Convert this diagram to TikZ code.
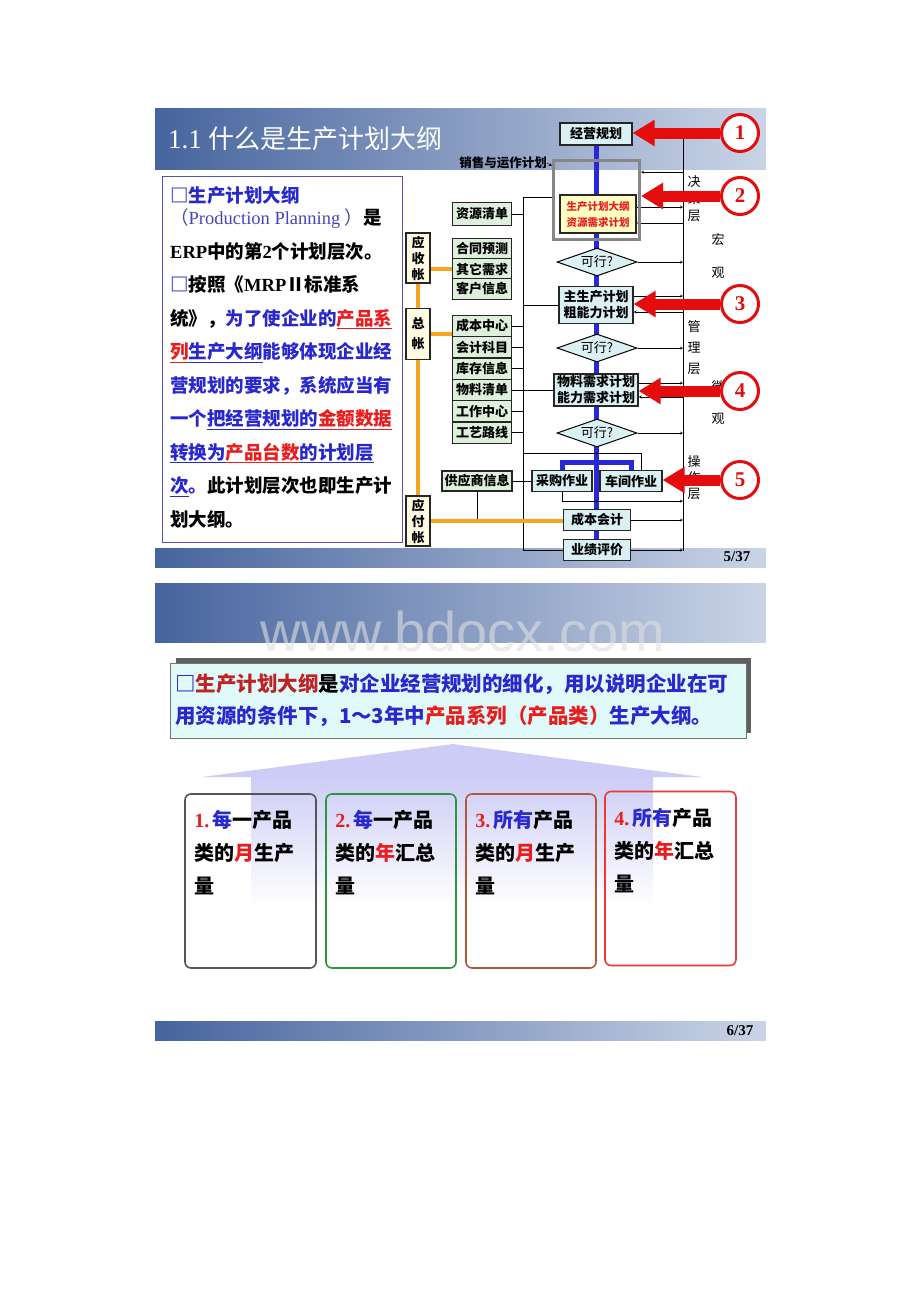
\documentclass[tikz,border=0pt]{standalone}
\usepackage{fontspec}
\setmainfont{Liberation Serif}
\newfontfamily\cjk{Noto Sans CJK SC}
\newfontfamily\wmfont{Liberation Sans}
\usetikzlibrary{shapes.geometric, arrows, arrows.meta, positioning}
\definecolor{barL}{RGB}{70,100,158}
\definecolor{barR}{RGB}{202,212,230}
\definecolor{flowfill}{RGB}{218,240,242}
\definecolor{srcfill}{RGB}{222,240,220}
\definecolor{ledgerfill}{RGB}{255,250,226}
\definecolor{planfill}{RGB}{255,255,196}
\definecolor{pblue}{RGB}{40,40,205}
\definecolor{ppblue}{RGB}{70,70,185}
\definecolor{pred}{RGB}{232,30,30}
\definecolor{notered}{RGB}{190,35,35}
\definecolor{spineblue}{RGB}{40,40,215}
\definecolor{feedorange}{RGB}{245,165,30}
\definecolor{calloutred}{RGB}{228,12,12}
\definecolor{framegray}{RGB}{135,135,135}
\definecolor{panelblue}{RGB}{80,80,200}
\definecolor{notefill}{RGB}{224,250,250}
\definecolor{shadowgray}{RGB}{95,95,95}
\definecolor{lavroof}{RGB}{204,204,246}
\definecolor{cardgray}{RGB}{85,85,85}
\definecolor{cardgreen}{RGB}{45,150,60}
\definecolor{cardbrown}{RGB}{178,88,58}
\definecolor{cardred}{RGB}{240,55,55}
\pgfdeclarelayer{bars}
\pgfdeclarelayer{wires}
\pgfsetlayers{bars,wires,main}
\tikzstyle{anno} = [font=\cjk\fontsize{13}{13}\selectfont, inner sep=0pt]
\tikzstyle{flow} = [font=\cjk\bfseries\fontsize{13}{16}\selectfont, rectangle, align=center, inner sep=0pt, draw=black!85, line width=1.2pt, fill=flowfill]
\tikzstyle{source} = [flow, fill=srcfill, minimum width=59pt, minimum height=21pt]
\tikzstyle{ledger} = [flow, fill=ledgerfill, minimum width=24pt, minimum height=50pt]
\tikzstyle{check} = [diamond, aspect=2.8, draw=black, line width=1pt, fill=flowfill, minimum width=80pt, minimum height=28pt, inner sep=0pt, font=\cjk\fontsize{13}{13}\selectfont]
\tikzstyle{arrow} = [thin,->,>=stealth]
\tikzstyle{wire} = [thin]
\tikzstyle{spine} = [line width=5pt, draw=spineblue]
\tikzstyle{feed} = [line width=4pt, draw=feedorange]
\tikzstyle{callout} = [line width=11pt, draw=calloutred, -{Triangle[width=25pt,length=22pt]}]
\tikzstyle{badge} = [circle, draw=calloutred, line width=3pt, fill=white, minimum size=37pt, inner sep=0pt, text=calloutred, font=\bfseries\fontsize{21}{21}\selectfont]
\tikzstyle{intro} = [font=\cjk\bfseries\fontsize{18.5}{33.5}\selectfont, anchor=north west, align=left, inner sep=0pt]
\tikzstyle{notebox} = [rectangle, draw=black!55, fill=notefill, minimum width=576pt, minimum height=75pt, inner xsep=4pt, text width=566pt, align=left, font=\cjk\bfseries\fontsize{20.5}{32}\selectfont]
\tikzstyle{card} = [rectangle, rounded corners=6pt, line width=1.6pt, minimum width=131pt, minimum height=174pt]
\tikzstyle{cardtext} = [font=\cjk\bfseries\fontsize{20}{33}\selectfont, align=left, inner sep=0pt]
\begin{document}
\begin{tikzpicture}[x=1pt,y=-1pt]
\useasboundingbox (0,0) rectangle (920,1302);
\begin{pgfonlayer}{bars}
  \fill[white] (0,0) rectangle (920,1302);
  \shade[left color=barL, right color=barR] (155,108) rectangle (766,169);
  \shade[left color=barL, right color=barR] (155,548) rectangle (766,567);
  \shade[left color=barL, right color=barR] (155,583) rectangle (766,642);
  \shade[left color=barL, right color=barR] (155,1021) rectangle (766,1040);
  \fill[lavroof] (202,777) -- (453,744) -- (702,777) -- cycle;
  \shade[top color=lavroof, bottom color=white] (251,776.5) rectangle (653,905);
  \fill[shadowgray] (176,658) rectangle (751,733);
\end{pgfonlayer}

  % slide 5/37
  \node (title) [anchor=west, inner sep=0pt, text=white] at (168,139) {{\fontsize{27}{27}\selectfont 1.1 }{\cjk\fontsize{26}{26}\selectfont 什么是生产计划大纲}};
  \node (page5) [font=\bfseries\fontsize{15}{15}\selectfont] at (737,557) {5/37};
  \draw[panelblue, line width=1pt] (162,176) rectangle (402,542);
  \node (intro) [intro] at (170,186) {\textcolor{pblue}{□生产计划大纲}\\[-11pt]
\textcolor{ppblue}{\mdseries （{\rmfamily Production Planning }）}是\\
{\rmfamily ERP}中的第{\rmfamily 2}个计划层次。\\
\textcolor{pblue}{□}按照《{\rmfamily MRP}Ⅱ标准系\\
统》，\textcolor{pblue}{为了使企业的}\textcolor{pred}{\underline{产品系}}\\
\textcolor{pred}{\underline{列}}\textcolor{pblue}{\underline{生产大纲}能够体现企业经}\\
\textcolor{pblue}{营规划的要求，系统应当有}\\
\textcolor{pblue}{一个\underline{把经营规划的}}\textcolor{pred}{\underline{金额数据}}\\
\textcolor{pblue}{\underline{转换为}}\textcolor{pred}{\underline{产品台数}}\textcolor{pblue}{\underline{的计划层}}\\
\textcolor{pblue}{\underline{次}。}此计划层次也即生产计\\
划大纲。};

  \node (bizplan) [flow, minimum width=72pt, minimum height=22pt] at (596,134) {经营规划};
  \node (sopframe) [rectangle, draw=framegray, line width=3pt, minimum width=86pt, minimum height=79pt] at (596.5,200) {};
  \node (outline) [flow, fill=planfill, text=pred, font=\cjk\bfseries\fontsize{10.5}{16}\selectfont, minimum width=76pt, minimum height=38pt] at (598,214) {生产计划大纲\\资源需求计划};
  \node (sales) [anno, font=\cjk\bfseries\fontsize{12.5}{12.5}\selectfont] at (503,163) {销售与运作计划};
  \node (feas1) [check] at (597,262) {可行?};
  \node (mps) [flow, minimum width=74pt, minimum height=37pt] at (596,305) {主生产计划\\粗能力计划};
  \node (feas2) [check] at (597,348) {可行?};
  \node (mrp) [flow, minimum width=84pt, minimum height=32pt] at (596,390) {物料需求计划\\能力需求计划};
  \node (feas3) [check] at (597,433) {可行?};
  \node (purchase) [flow, minimum width=60pt, minimum height=21pt] at (562,481) {采购作业};
  \node (shopfloor) [flow, minimum width=62pt, minimum height=21pt] at (631,481) {车间作业};
  \node (costacc) [flow, minimum width=67pt, minimum height=21pt] at (597,520) {成本会计};
  \node (review) [flow, minimum width=67pt, minimum height=21pt] at (597,550) {业绩评价};

  \node (bor) [source, minimum height=23pt] at (482,214) {资源清单};
  \node (forecast) [source] at (482,249) {合同预测};
  \node (otherdem) [source] at (482,269) {其它需求};
  \node (custinfo) [source] at (482,289) {客户信息};
  \node (costctr) [source] at (482,326) {成本中心};
  \node (accounts) [source] at (482,347.3) {会计科目};
  \node (stock) [source] at (482,368.6) {库存信息};
  \node (bom) [source] at (482,390) {物料清单};
  \node (workctr) [source] at (482,411.3) {工作中心};
  \node (routing) [source] at (482,432.6) {工艺路线};
  \node (supplier) [source, minimum width=70pt, minimum height=20pt] at (477,481) {供应商信息};

  \node (recv) [ledger] at (418,258) {应\\收\\帐};
  \node (gl) [ledger, minimum height=51pt] at (418,334) {总\\[4pt]帐};
  \node (pay) [ledger] at (418,521) {应\\付\\帐};

  \node (dec1) [anno] at (694,182) {决};
  \node (dec2) [anno] at (694,199) {策};
  \node (dec3) [anno] at (694,216) {层};
  \node (macro1) [anno] at (718,240) {宏};
  \node (macro2) [anno] at (718,273) {观};
  \node (mgmt1) [anno] at (694,327) {管};
  \node (mgmt2) [anno] at (694,348) {理};
  \node (mgmt3) [anno] at (694,369) {层};
  \node (micro1) [anno] at (718,387) {微};
  \node (micro2) [anno] at (718,419) {观};
  \node (ops1) [anno] at (694,462) {操};
  \node (ops2) [anno] at (694,478) {作};
  \node (ops3) [anno] at (694,494) {层};

  \coordinate (bus) at (523,197);
  \coordinate (rail) at (683,134);
  \coordinate (railend) at (683,551);
  \path (sopframe.north east) ++(0,13) coordinate (f1);
  \path (outline.east) ++(0,-7) coordinate (o1) ++(0,16) coordinate (o2);
  \path (mps.east) ++(0,-9) coordinate (m1) ++(0,16) coordinate (m2);
  \path (mrp.east) ++(0,-7) coordinate (r1) ++(0,14) coordinate (r2);
  \path (purchase.south) ++(0,9) coordinate (p1);

\begin{pgfonlayer}{wires}
  \draw[wire] (rail) -- (railend);
  \draw[spine] (bizplan.south) -- (bizplan.south |- review.north);
  \draw[spine] (purchase.north) -- ++(0,-7) -| (shopfloor.north);
  \draw[wire] (sopframe.west |- bus) -- (bus) |- (review.west);
  \draw[wire] (bor.east) -- (bor.east -| bus);
  \draw[wire] (mps.west) -- (mps.west -| bus);
  \draw[wire] (costctr.east) -- (costctr.east -| bus);
  \draw[wire] (accounts.east) -- (accounts.east -| bus);
  \draw[wire] (stock.east) -- (stock.east -| bus);
  \draw[wire] (bom.east) -- (mrp.west);
  \draw[wire] (workctr.east) -- (workctr.east -| bus);
  \draw[wire] (routing.east) -- (routing.east -| bus);
  \draw[wire] (supplier.east) -- (purchase.west);
  \draw[wire] (supplier.south) -- (supplier.south |- pay.east);
  \draw[wire] ([xshift=10pt]shopfloor.north) -- ++(0,-17) -- ++(-118,0);
  \draw[arrow] (sales.east) -- ([yshift=-7pt]sopframe.north west);
  \draw[arrow] (f1 -| rail) -- (f1);
  \draw[arrow] (o1) -- (o1 -| rail);
  \draw[arrow] (o2 -| rail) -- (o2);
  \draw[arrow] (feas1.east) -- (feas1.east -| rail);
  \draw[arrow] (m1) -- (m1 -| rail);
  \draw[arrow] (m2 -| rail) -- (m2);
  \draw[arrow] (feas2.east) -- (feas2.east -| rail);
  \draw[arrow] (r1) -- (r1 -| rail);
  \draw[arrow] (r2 -| rail) -- (r2);
  \draw[arrow] (feas3.east) -- (feas3.east -| rail);
  \draw[arrow] (purchase.south) -- (p1) -- (p1 -| rail);
  \draw[arrow] (costacc.east) -- (costacc.east -| rail);
  \draw[arrow] (review.east) -- (review.east -| rail);
  \draw[feed] (recv.south) -- (gl.north);
  \draw[feed] (gl.south) -- (pay.north);
  \draw[feed] (recv.east |- otherdem.west) -- (otherdem.west);
  \draw[feed] (gl.east) -- (gl.east -| costctr.west);
  \draw[feed] (pay.east) -- (pay.east -| costacc.west);
\end{pgfonlayer}

  \node (n1) [badge] at (740,133) {1};
  \node (n2) [badge] at (740,196) {2};
  \node (n3) [badge] at (740,304) {3};
  \node (n4) [badge] at (740,391) {4};
  \node (n5) [badge] at (740,480) {5};
  \draw[callout] (n1.west) -- (n1.west -| bizplan.east);
  \draw[callout] (n2.west) -- (n2.west -| sopframe.east);
  \draw[callout] (n3.west) -- (n3.west -| mps.east);
  \draw[callout] (n4.west) -- (n4.west -| mrp.east);
  \draw[callout] (n5.west) -- (n5.west -| shopfloor.east);

  % slide 6/37
  \node (wm) [font=\wmfont\fontsize{56}{56}\selectfont, text=black!12, text opacity=0.6] at (463,631) {www.bdocx.com};
  \node (note) [notebox] at (458,700.5) {\textcolor{pblue}{□}\textcolor{notered}{生产计划大纲}是\textcolor{pblue}{对企业经营规划的细化，用以说明企业在可}\\
\textcolor{pblue}{用资源的条件下，1～3年中}\textcolor{pred}{产品系列（产品类）}\textcolor{pblue}{生产大纲。}};
  \node (card1) [card, draw=cardgray] at (250.5,881) {};
  \node (card2) [card, draw=cardgreen, minimum width=130pt] at (391,881) {};
  \node (card3) [card, draw=cardbrown, minimum width=130pt] at (531,881) {};
  \node (card4) [card, draw=cardred] at (670.5,878.5) {};
  \node (txt1) [cardtext, below right=17pt and 10pt of card1.north west] {\textcolor{pred}{\rmfamily 1.}\hspace{3pt}\textcolor{pblue}{每}一产品\\类的\textcolor{pred}{月}生产\\量};
  \node (txt2) [cardtext, below right=17pt and 10pt of card2.north west] {\textcolor{pred}{\rmfamily 2.}\hspace{3pt}\textcolor{pblue}{每}一产品\\类的\textcolor{pred}{年}汇总\\量};
  \node (txt3) [cardtext, below right=17pt and 10pt of card3.north west] {\textcolor{pred}{\rmfamily 3.}\hspace{3pt}\textcolor{pblue}{所有}产品\\类的\textcolor{pred}{月}生产\\量};
  \node (txt4) [cardtext, below right=17pt and 10pt of card4.north west] {\textcolor{pred}{\rmfamily 4.}\hspace{3pt}\textcolor{pblue}{所有}产品\\类的\textcolor{pred}{年}汇总\\量};
  \node (page6) [font=\bfseries\fontsize{15}{15}\selectfont] at (740,1031) {6/37};
\end{tikzpicture}
\end{document}
